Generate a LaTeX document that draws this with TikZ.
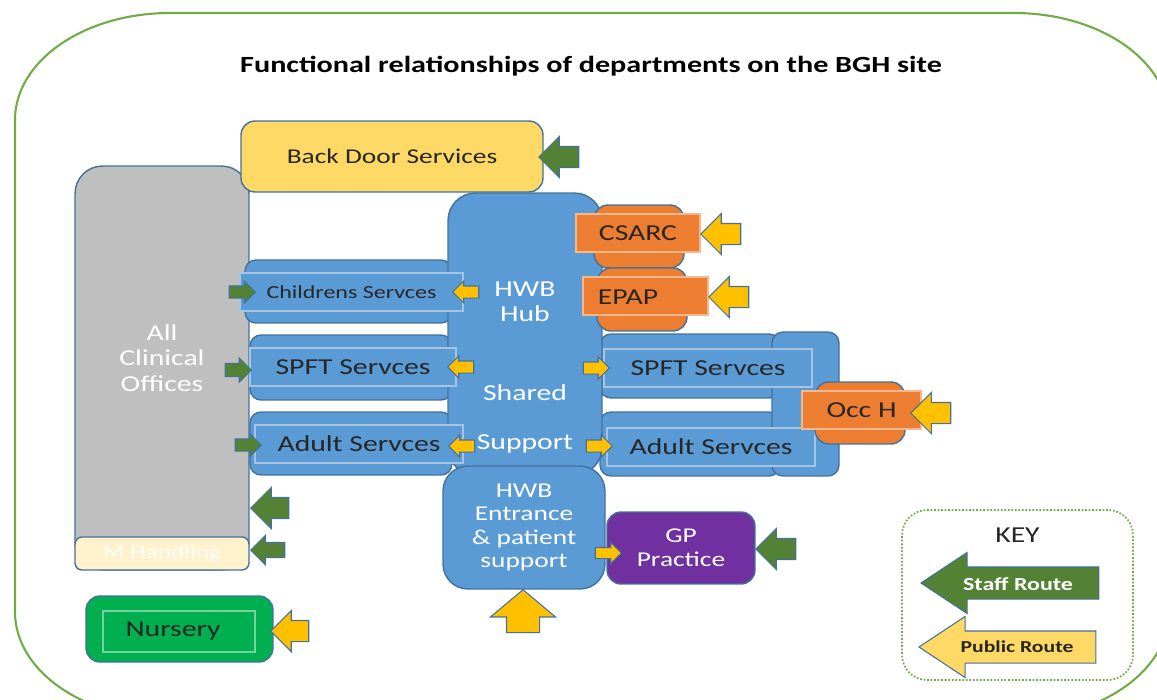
\documentclass[tikz,border=0pt]{standalone}
\usepackage{fontspec}
\setmainfont{Carlito}[FakeStretch=1.3]
\usepackage{tikz}
\usetikzlibrary{shapes.arrows, positioning}
\definecolor{siteGreen}{RGB}{112,173,71}
\definecolor{edgeBlue}{RGB}{65,113,156}
\definecolor{hwbBlue}{RGB}{91,155,213}
\definecolor{innerLine}{RGB}{166,196,226}
\definecolor{backYellow}{RGB}{255,217,102}
\definecolor{routeYellow}{RGB}{255,192,0}
\definecolor{staffGreen}{RGB}{84,130,53}
\definecolor{officeGrey}{RGB}{191,191,191}
\definecolor{handlingCream}{RGB}{255,242,204}
\definecolor{unitOrange}{RGB}{237,125,49}
\definecolor{gpPurple}{RGB}{112,48,160}
\definecolor{nurseryGreen}{RGB}{0,176,80}
\definecolor{textDark}{RGB}{38,38,38}

\begin{document}
\begin{tikzpicture}[
    x=0.02cm, y=-0.02cm,
    area/.style={
        rectangle,
        draw=edgeBlue,
        line width=0.8pt,
        rounded corners=0.28cm,
        inner sep=0pt
    },
    band/.style={area, fill=hwbBlue, rounded corners=0.22cm},
    strip/.style={
        rectangle,
        draw=innerLine,
        line width=0.6pt,
        fill=hwbBlue,
        inner sep=0pt,
        minimum height=0.76cm,
        text=textDark,
        font=\fontsize{13}{15}\selectfont
    },
    unitbox/.style={area, fill=unitOrange, minimum width=1.8cm},
    unitstrip/.style={
        rectangle,
        draw=unitOrange!55!white,
        line width=0.6pt,
        fill=unitOrange,
        inner sep=0pt,
        minimum height=0.76cm,
        text=textDark,
        font=\fontsize{13}{15}\selectfont
    },
    whitetext/.style={text=white, align=center, font=\fontsize{13}{14.5}\selectfont},
    darktext/.style={text=textDark, align=center, font=\fontsize{13}{15}\selectfont},
    route/.style={single arrow, draw=edgeBlue, line width=0.6pt, inner xsep=0pt},
    staff/.style={route, fill=staffGreen},
    public/.style={route, fill=routeYellow},
    bigroute/.style={minimum width=0.8cm, minimum height=0.8cm, inner ysep=0.2cm, single arrow head extend=0.2cm},
    smallroute/.style={minimum width=0.42cm, minimum height=0.52cm, inner ysep=0.11cm, single arrow head extend=0.1cm},
    pointleft/.style={shape border rotate=180},
    pointup/.style={shape border rotate=90}
]
    \clip (0,0) rectangle (1157,700);

    % site outline
    \draw[siteGreen, line width=1.2pt] (15,120) .. controls (15,61) and (84,13) .. (170,13)
        -- (1014,13) .. controls (1100,13) and (1169,61) .. (1169,120)
        -- (1169,612) .. controls (1169,671) and (1100,719) .. (1014,719)
        -- (170,719) .. controls (84,719) and (15,671) .. (15,612) -- cycle;

    \node[text=black, font=\bfseries\fontsize{13.2}{15}\selectfont] (title) at (591,66) {Functional relationships of departments on the BGH site};

    % offices and back door
    \node[area, fill=officeGrey, rounded corners=0.55cm, minimum width=3.48cm, minimum height=8.08cm] (offices) at (162,368) {};
    \node[whitetext] (officestxt) at (162,358) {All\\Clinical\\Offices};
    \node[area, fill=handlingCream, rounded corners=0.14cm, minimum width=3.48cm, minimum height=0.66cm,
        text=white, font=\fontsize{11}{13}\selectfont] (handling) at (162,553.5) {M Handling};
    \node[area, fill=backYellow, minimum width=6.04cm, minimum height=1.42cm,
        text=textDark, font=\fontsize{12}{14}\selectfont] (backdoor) at (392,156.5) {Back Door Services};

    % service bands
    \node[band, minimum width=4.14cm, minimum height=1.26cm] (childband) at (348.5,291.5) {};
    \node[band, minimum width=4.04cm, minimum height=1.3cm] (spftLband) at (351,367.5) {};
    \node[band, minimum width=4.04cm, minimum height=1.26cm] (adultLband) at (351,443.5) {};
    \node[band, minimum width=3.6cm, minimum height=1.28cm] (spftRband) at (690,366) {};
    \node[band, minimum width=3.6cm, minimum height=1.28cm] (adultRband) at (690,444) {};
    \node[band, minimum width=1.34cm, minimum height=2.88cm] (occlink) at (805.5,404) {};

    % hub
    \node[band, rounded corners=0.55cm, minimum width=3.08cm, minimum height=5.64cm] (hub) at (525,334) {};
    \node[whitetext] (hubtxt) at (525,302) {HWB\\Hub};
    \node[whitetext] (sharedtxt) at (525,393) {Shared};
    \node[whitetext] (supporttxt) at (525,444) {Support};

    \node[strip, minimum width=4.46cm, font=\fontsize{10.5}{12}\selectfont] (child) at (351.5,292) {Childrens Servces};
    \node[strip, minimum width=4.12cm] (spftL) at (353,367) {SPFT Servces};
    \node[strip, minimum width=4.16cm] (adultL) at (359,444) {Adult Servces};
    \node[strip, minimum width=4.16cm] (spftR) at (708,368) {SPFT Servces};
    \node[strip, minimum width=4.16cm] (adultR) at (711,447) {Adult Servces};

    % orange units
    \node[unitbox, minimum height=1.26cm] (csarcbox) at (639,236.5) {};
    \node[unitstrip, minimum width=2.48cm] (csarc) at (638,233) {CSARC};
    \node[unitbox, minimum height=1.26cm] (epapbox) at (642,299.5) {};
    \node[unitstrip, minimum width=2.5cm] (epap) at (645.5,296) {};
    \node[darktext] (epaptxt) at (628,297) {EPAP};
    \node[unitbox, minimum height=1.24cm] (occbox) at (860,413) {};
    \node[unitstrip, minimum width=2.38cm] (occ) at (861.5,410) {Occ H};

    % entrance, GP, nursery
    \node[area, fill=hwbBlue, rounded corners=0.5cm, minimum width=3.24cm, minimum height=2.46cm,
        whitetext, font=\fontsize{12}{13.4}\selectfont] (entrance) at (524,527.5) {HWB\\Entrance\\\& patient\\support};
    \node[area, fill=gpPurple, minimum width=2.96cm, minimum height=1.44cm,
        whitetext, font=\fontsize{12}{13.6}\selectfont] (gp) at (681,548) {GP\\Practice};
    \node[area, fill=nurseryGreen, minimum width=3.74cm, minimum height=1.32cm] (nurserybox) at (179.5,629) {};
    \node[rectangle, draw=nurseryGreen!55!white, line width=0.6pt, fill=nurseryGreen, inner sep=0pt,
        minimum width=3.04cm, minimum height=0.82cm] (nursery) at (179,631.5) {};
    \node[text=black!85, font=\fontsize{13}{15}\selectfont] (nurserytxt) at (173,631) {Nursery};

    % routes in
    \node[staff, bigroute, pointleft, anchor=tip] (backdoorin) at (538,157) {};
    \node[staff, smallroute, anchor=tip] (childstaff) at (256,292) {};
    \node[public, smallroute, pointleft, anchor=tip] (childpublic) at (452,292) {};
    \node[staff, smallroute, minimum width=0.48cm, anchor=tip] (spftLstaff) at (252,370) {};
    \node[public, smallroute, pointleft, anchor=tip] (spftLpublic) at (447,367) {};
    \node[staff, smallroute, anchor=tip] (adultLstaff) at (262,445) {};
    \node[public, smallroute, pointleft, anchor=tip] (adultLpublic) at (448,446) {};
    \node[public, smallroute, anchor=tip] (spftRpublic) at (610,368) {};
    \node[public, smallroute, anchor=tip] (adultRpublic) at (613,446) {};
    \node[public, bigroute, pointleft, anchor=tip] (csarcin) at (700,234) {};
    \node[public, bigroute, pointleft, anchor=tip] (epapin) at (708,297) {};
    \node[public, bigroute, pointleft, anchor=tip] (occin) at (910,413) {};
    \node[staff, bigroute, pointleft, anchor=tip] (gpstaff) at (755,549) {};
    \node[public, smallroute, minimum width=0.36cm, inner ysep=0.1cm, anchor=tip] (gppublic) at (622,553) {};
    \node[public, pointup, anchor=tip, minimum width=1.28cm, minimum height=0.86cm, inner xsep=0.32cm, inner ysep=0pt,
        single arrow head extend=0.32cm, single arrow tip angle=100] (entrancein) at (523,589) {};
    \node[staff, bigroute, minimum height=0.76cm, pointleft, anchor=tip] (officesin) at (250,508) {};
    \node[staff, pointleft, anchor=tip, minimum width=0.56cm, minimum height=0.68cm, inner ysep=0.14cm,
        single arrow head extend=0.14cm] (handlingin) at (250,550) {};
    \node[public, bigroute, minimum height=0.76cm, pointleft, anchor=tip] (nurseryin) at (270,631) {};

    % key
    \node[draw=siteGreen, densely dotted, line width=1pt, rounded corners=0.5cm,
        minimum width=4.62cm, minimum height=3.4cm] (key) at (1017.5,595) {};
    \node[darktext, anchor=north, below=0.24cm of key.north] (keytitle) {KEY};
    \node[staff, pointleft, anchor=tip, minimum width=1.2cm, minimum height=3.56cm, inner ysep=0.31cm,
        single arrow head extend=0.29cm, single arrow tip angle=67] (staffkey) at (920,583) {};
    \node[whitetext, font=\bfseries\fontsize{10.5}{12}\selectfont] (staffkeytxt) at (1018,584) {Staff Route};
    \node[public, fill=backYellow, pointleft, anchor=tip, minimum width=1.2cm, minimum height=3.54cm, inner ysep=0.31cm,
        single arrow head extend=0.29cm, single arrow tip angle=67] (publickey) at (918,647) {};
    \node[darktext, font=\bfseries\fontsize{9.5}{11}\selectfont] (publickeytxt) at (1017,647) {Public Route};
\end{tikzpicture}
\end{document}
